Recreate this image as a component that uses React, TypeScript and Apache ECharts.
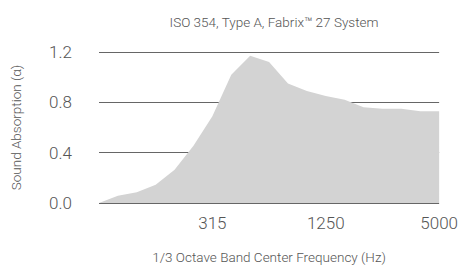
import React, { useEffect, useRef } from "react";
import * as echarts from "echarts";

const title = "ISO 354, Type A, Fabrix™ 27 System";
const frequencies = ["80", "100", "125", "160", "200", "250", "315", "400", "500", "630", "800", "1000", "1250", "1600", "2000", "2500", "3150", "4000", "5000"];
const absorption = [0.0, 0.058, 0.085, 0.145, 0.265, 0.455, 0.69, 1.02, 1.17, 1.12, 0.95, 0.89, 0.85, 0.82, 0.76, 0.75, 0.75, 0.73, 0.73];
const xName = "1/3 Octave Band Center Frequency (Hz)";
const yName = "Sound Absorption (α)";

export default function App() {
  const ref = useRef<HTMLDivElement>(null);
  useEffect(() => {
    if (!ref.current) return;
    const chart = echarts.init(ref.current, null, { renderer: "svg" });
    const font = "Roboto";
    chart.setOption({
      animation: false,
      title: {
        text: title,
        left: 269,
        top: 10,
        textAlign: "center",
        textStyle: { fontFamily: font, fontWeight: 300, fontSize: 13.5, color: "#555" },
      },
      grid: { left: 99, right: 21, top: 52, bottom: 68 },
      xAxis: {
        type: "category",
        data: frequencies,
        boundaryGap: false,
        name: xName,
        nameLocation: "middle",
        nameGap: 47,
        nameTextStyle: { fontFamily: font, fontWeight: 300, fontSize: 13.5, color: "#555" },
        axisLine: { show: false },
        axisTick: { show: false },
        axisLabel: {
          interval: (i: number) => i % 6 === 0 && i > 0,
          fontFamily: font,
          fontWeight: 300,
          fontSize: 17,
          color: "#555",
          margin: 11,
        },
      },
      yAxis: {
        type: "value",
        min: 0,
        max: 1.2,
        interval: 0.4,
        name: yName,
        nameLocation: "middle",
        nameRotate: 90,
        nameGap: 76,
        nameTextStyle: { fontFamily: font, fontWeight: 300, fontSize: 13.5, color: "#555" },
        axisLine: { show: false },
        axisTick: { show: false },
        axisLabel: {
          formatter: (v: number) => v.toFixed(1),
          fontFamily: font,
          fontWeight: 300,
          fontSize: 17,
          color: "#555",
          margin: 27,
        },
        splitLine: { lineStyle: { color: "#666", width: 1 } },
      },
      series: [
        {
          type: "line",
          data: absorption,
          symbol: "none",
          lineStyle: { width: 0 },
          areaStyle: { color: "#d3d3d3", opacity: 1 },
          z: 5,
        },
      ],
    });
    return () => chart.dispose();
  }, []);
  return <div ref={ref} style={{ width: 461, height: 271, position: "absolute", left: 0, top: 0 }} />;
}
